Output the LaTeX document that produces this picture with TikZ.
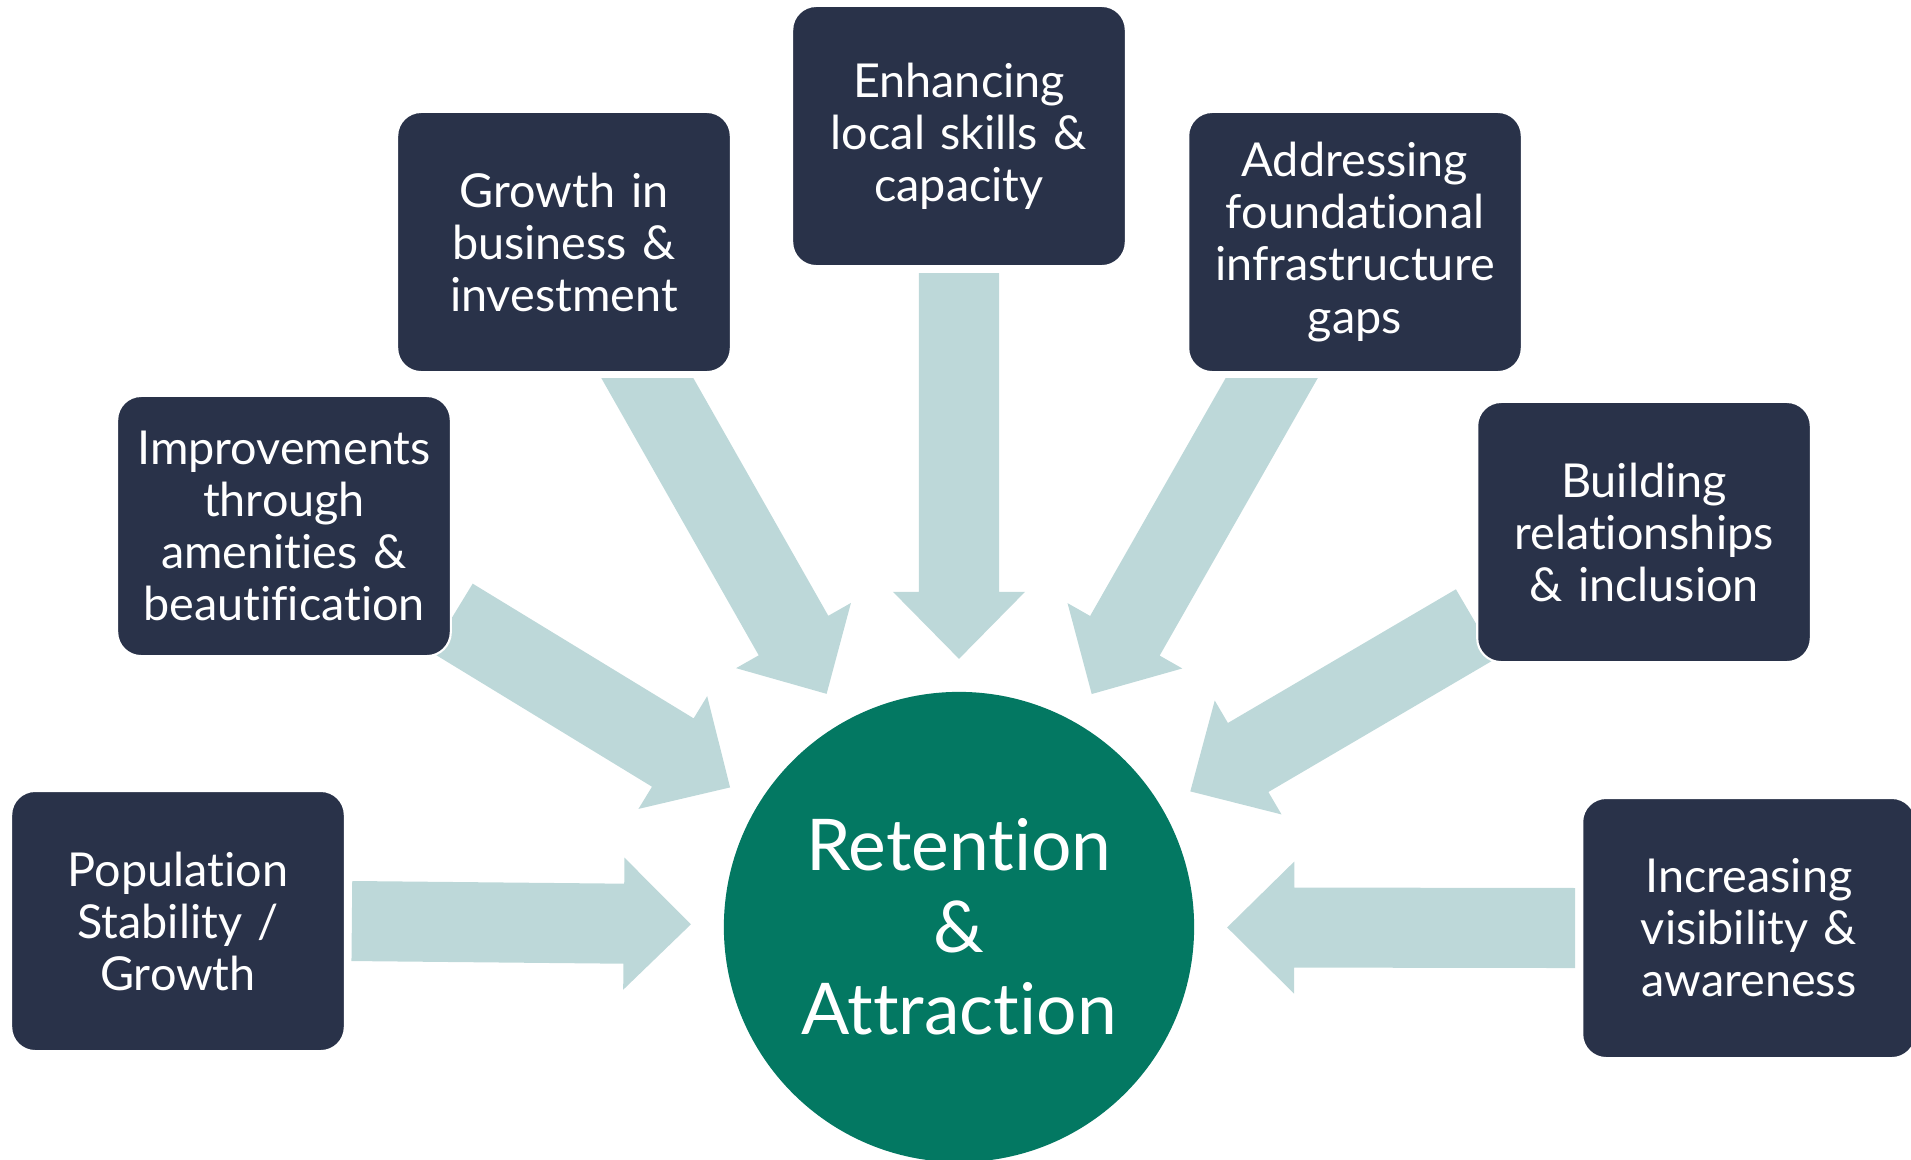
\documentclass[tikz,border=0pt]{standalone}
\usepackage{fontspec}
\setmainfont[Ligatures=NoCommon]{Lato}
\usetikzlibrary{calc}
\pgfdeclarelayer{background}
\pgfsetlayers{background,main}

\definecolor{boxnavy}{HTML}{293249}
\definecolor{hubgreen}{HTML}{037862}
\definecolor{flowblue}{HTML}{BDD8D9}

% block arrow from a start point to a tip
\newcommand{\blockarrow}[2]{%
  \coordinate (hb) at ($(#2)!0.67cm!(#1)$);
  \fill[flow] ($(#1)!0.4cm!90:(#2)$) -- ($(hb)!0.4cm!90:(#2)$)
    -- ($(hb)!0.66cm!90:(#2)$) -- (#2) -- ($(hb)!0.66cm!-90:(#2)$)
    -- ($(hb)!0.4cm!-90:(#2)$) -- ($(#1)!0.4cm!-90:(#2)$) -- cycle;}

\begin{document}
\begin{tikzpicture}[x=0.01cm,y=-0.01cm,
    box/.style={rectangle,rounded corners=0.24cm,fill=boxnavy,draw=white,line width=0.6pt,
      minimum width=3.26cm,minimum height=2.6cm,text width=3.1cm,align=center,text=white,
      font=\fontsize{13.3}{14.8}\selectfont},
    hub/.style={circle,fill=hubgreen,minimum size=4.7cm,inner sep=0pt,text=white,align=center,
      font=\fontsize{20.3}{23.3}\selectfont},
    flow/.style={fill=flowblue}]

  \useasboundingbox (0,0) rectangle (1911,1159);

  \node[hub] (ctr) at (959,927) {Retention\\\&\\Attraction};

  \node[box] (pop) at (178,921) {Population\\Stability /\\Growth};
  \node[box] (amen) at (284,526) {Improvements\\through\\amenities \&\\beautification};
  \node[box] (biz) at (564,242) {Growth in\\business \&\\investment};
  \node[box] (skill) at (959,136) {Enhancing\\local skills \&\\capacity};
  \node[box] (infra) at (1355,242) {Addressing\\foundational\\infrastructure\\gaps};
  \node[box] (rel) at (1644,532) {Building\\relationships\\\& inclusion};
  \node[box] (vis) at (1749,928) {Increasing\\visibility \&\\awareness};

  % where the arrows leave the boxes
  \coordinate (s1) at ($(pop.east)+(6,0)$);
  \coordinate (s2) at ($(amen.east)!0.7!(amen.south east)$);
  \coordinate (s3) at ($(biz.south)!0.5!(biz.south east)+(0,6)$);
  \coordinate (s4) at ($(skill.south)+(0,6)$);
  \coordinate (s5) at ($(infra.south)!0.5!(infra.south west)+(0,6)$);
  \coordinate (s6) at ($(rel.west)!0.7!(rel.south west)$);
  \coordinate (s7) at ($(vis.west)+(-6,0)$);

  \begin{pgfonlayer}{background}
    \foreach \s in {s1,s2,s4,s6,s7}{
      \coordinate (t-\s) at ($(ctr.center)!2.68cm!(\s)$);
      \blockarrow{\s}{t-\s}
    }
    % the two slanted upper arrows are cut level under their boxes
    \begin{scope}
      \clip (0,378) rectangle (1911,1159);
      \foreach \s in {s3,s5}{
        \coordinate (t-\s) at ($(ctr.center)!2.68cm!(\s)$);
        \coordinate (u-\s) at ($(ctr.center)!1.15!(\s)$);
        \blockarrow{u-\s}{t-\s}
      }
    \end{scope}
  \end{pgfonlayer}
\end{tikzpicture}
\end{document}
